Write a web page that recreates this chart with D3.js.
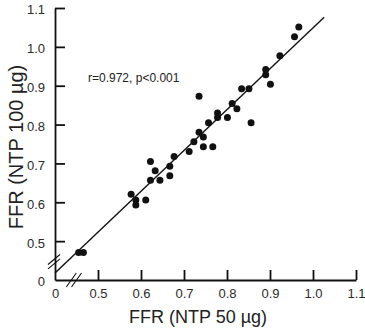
<!DOCTYPE html>
<html>
<head>
<meta charset="utf-8">
<script src="https://cdn.jsdelivr.net/npm/d3@7"></script>
<style>
  body { margin: 0; background: #fff; }
  svg { display: block; }
  text { font-family: "Liberation Sans", Arial, Helvetica, sans-serif; fill: #222; }
</style>
</head>
<body>
<svg id="chart" width="365" height="330"></svg>
<script>
// ---- data ----
const ntp50 = [0.967, 0.957, 0.923, 0.890, 0.890, 0.901, 0.851, 0.834, 0.735, 0.812,
               0.823, 0.778, 0.778, 0.801, 0.856, 0.757, 0.735, 0.745, 0.723, 0.745,
               0.767, 0.712, 0.677, 0.622, 0.667, 0.633, 0.622, 0.644, 0.667, 0.577,
               0.588, 0.588, 0.611, 0.455, 0.466];
const ntp100 = [1.051, 1.026, 0.977, 0.942, 0.928, 0.904, 0.892, 0.892, 0.873, 0.854,
                0.841, 0.830, 0.818, 0.818, 0.805, 0.805, 0.780, 0.768, 0.756, 0.743,
                0.743, 0.731, 0.718, 0.705, 0.693, 0.681, 0.657, 0.657, 0.668, 0.621,
                0.606, 0.593, 0.606, 0.471, 0.471];
const fitX = [0.400, 1.026];
const fitY = [0.418, 1.076];
const tickValues = [0.4, 0.5, 0.6, 0.7, 0.8, 0.9, 1.0, 1.1];
const tickLabels = ["0", "0.5", "0.6", "0.7", "0.8", "0.9", "1.0", "1.1"];
const annotation = "r=0.972, p<0.001";
const xTitle = "FFR (NTP 50 µg)";
const yTitle = "FFR (NTP 100 µg)";

// ---- layout ----
const svg = d3.select("#chart");
const x = d3.scaleLinear().domain([0.4, 1.1]).range([55, 356]);
const y = d3.scaleLinear().domain([0.4, 1.1]).range([280, 8]);
const fmt = v => tickLabels[tickValues.indexOf(v)];

// y axis
const gy = svg.append("g").attr("transform", `translate(${x(0.4)},0)`)
  .call(d3.axisLeft(y).tickValues(tickValues).tickFormat(fmt)
        .tickSizeInner(-10).tickSizeOuter(0).tickPadding(10));
gy.selectAll("text").attr("font-size", 13).attr("dy", "0.45em");
gy.selectAll(".tick").filter(d => d === 0.4).select("line").remove();

// x axis
const gx = svg.append("g").attr("transform", `translate(0,${y(0.4)})`)
  .call(d3.axisBottom(x).tickValues(tickValues).tickFormat(fmt)
        .tickSizeInner(-10).tickSizeOuter(0).tickPadding(9));
gx.selectAll("text").attr("font-size", 13);
gx.selectAll(".tick").filter(d => d === 0.4).select("line").remove();

[gx, gy].forEach(g => {
  g.selectAll("path.domain").attr("stroke", "#111").attr("stroke-width", 1.8);
  g.selectAll(".tick line").attr("stroke", "#111").attr("stroke-width", 1.8);
  g.selectAll("text").style("fill", "#2a2a2a");
});

// axis break marks
const bx = x(0.4), by = y(0.447);
[-2.2, 2.2].forEach(o => {
  svg.append("line").attr("x1", bx - 7).attr("y1", by + 5 + o)
    .attr("x2", bx + 5).attr("y2", by - 5 + o)
    .attr("stroke", "#111").attr("stroke-width", 1.1);
});
const cx = x(0.444), cy = y(0.4);
[-2.6, 2.6].forEach(o => {
  svg.append("line").attr("x1", cx - 5 + o).attr("y1", cy + 7)
    .attr("x2", cx + 5 + o).attr("y2", cy - 7)
    .attr("stroke", "#111").attr("stroke-width", 1.1);
});

// regression line
svg.append("line")
  .attr("x1", x(fitX[0])).attr("y1", y(fitY[0]))
  .attr("x2", x(fitX[1])).attr("y2", y(fitY[1]))
  .attr("stroke", "#111").attr("stroke-width", 1.4);

// points
svg.append("g").selectAll("circle").data(ntp50).join("circle")
  .attr("cx", d => x(d))
  .attr("cy", (d, i) => y(ntp100[i]))
  .attr("r", 3.5)
  .attr("fill", "#111");

// annotation
svg.append("text").attr("x", 88).attr("y", 82).attr("font-size", 12).text(annotation);

// axis titles
svg.append("text").attr("x", 198).attr("y", 323).attr("text-anchor", "middle")
  .attr("font-size", 18).text(xTitle);
svg.append("text").attr("transform", "translate(23,147) rotate(-90)")
  .attr("text-anchor", "middle").attr("font-size", 20).text(yTitle);
</script>
</body>
</html>
